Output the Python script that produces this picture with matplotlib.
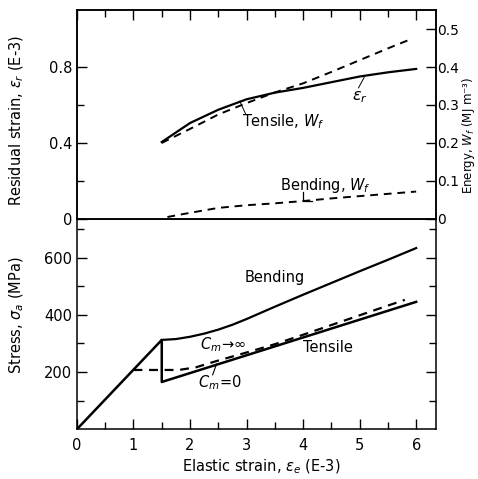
import matplotlib
matplotlib.use('Agg')
import matplotlib.pyplot as plt

# upper panel: residual strain (left axis, E-3) and fracture energy (right axis, MJ m^-3)
er_x = [1.5, 2.0, 2.5, 3.0, 3.5, 4.0, 4.5, 5.0, 5.5, 6.0]
er_y = [0.405, 0.505, 0.575, 0.63, 0.665, 0.69, 0.72, 0.75, 0.772, 0.79]
wt_x = [1.5, 2.0, 2.5, 3.0, 3.5, 4.0, 4.5, 5.0, 5.5, 5.85]
wt_y = [0.20, 0.237, 0.275, 0.305, 0.333, 0.357, 0.387, 0.418, 0.449, 0.47]
wb_x = [1.6, 2.0, 2.5, 3.0, 3.5, 4.0, 4.5, 5.0, 5.5, 6.0]
wb_y = [0.005, 0.016, 0.029, 0.036, 0.041, 0.047, 0.054, 0.060, 0.066, 0.072]

# lower panel: stress (MPa)
tens_x = [0, 1.5, 1.5, 6.0]
tens_y = [0, 312, 165, 445]
bend_x = [1.5, 1.75, 2.0, 2.25, 2.5, 2.75, 3.0, 3.5, 4.0, 4.5, 5.0, 5.5, 6.0]
bend_y = [312, 315, 323, 334, 348, 365, 385, 428, 470, 511, 552, 592, 633]
cinf_x = [1.0, 1.5, 1.8, 2.1, 2.5, 3.0, 3.5, 4.0, 4.5, 5.0, 5.5, 5.8]
cinf_y = [207, 207, 207, 216, 240, 268, 297, 330, 364, 398, 432, 452]

fs = 10.5
dash = (4, 3)

fig = plt.figure(figsize=(4.78, 4.79), dpi=100)
ax2 = fig.add_axes([0.161, 0.104, 0.751, 0.439])
ax1 = fig.add_axes([0.161, 0.543, 0.751, 0.436], sharex=ax2)
ax1r = ax1.twinx()

# upper
ax1.plot(er_x, er_y, color='black', lw=1.6)
ax1r.plot(wt_x, wt_y, color='black', lw=1.4, ls='--', dashes=dash)
ax1r.plot(wb_x, wb_y, color='black', lw=1.4, ls='--', dashes=dash)
ax1.set_xlim(0, 6.35)
ax1.set_ylim(0, 1.1)
ax1r.set_ylim(0, 0.55)
ax1.set_yticks([0, 0.4, 0.8])
ax1.set_yticklabels(['0', '0.4', '0.8'])
ax1.set_yticks([0.2, 0.6], minor=True)
ax1r.set_yticks([0, 0.1, 0.2, 0.3, 0.4, 0.5])
ax1r.set_yticklabels(['0', '0.1', '0.2', '0.3', '0.4', '0.5'])
ax1.tick_params(axis='x', which='both', direction='in', top=True, bottom=False,
                labelbottom=False, labeltop=False)
ax1.tick_params(axis='y', which='both', direction='in', labelsize=fs, pad=3)
ax1.tick_params(which='major', length=7, width=1)
ax1.tick_params(which='minor', length=5, width=1)
ax1r.tick_params(axis='y', direction='in', length=7, width=1, labelsize=10, pad=1)

ax1.text(4.87, 0.64, r'$\epsilon_r$', fontsize=fs + 1, va='center')
ax1.plot([4.98, 5.08], [0.69, 0.745], color='black', lw=0.7)
ax1.text(2.92, 0.51, r'Tensile, $W_f$', fontsize=fs, va='center')
ax1.plot([2.98, 2.88], [0.555, 0.62], color='black', lw=0.7)
ax1.text(3.59, 0.174, r'Bending, $W_f$', fontsize=fs, va='center')
ax1.plot([4.0, 4.0, 4.15], [0.14, 0.095, 0.095], color='black', lw=0.9)

# lower
ax2.plot(tens_x, tens_y, color='black', lw=1.8)
ax2.plot(bend_x, bend_y, color='black', lw=1.6)
ax2.plot(cinf_x, cinf_y, color='black', lw=1.6, ls='--', dashes=dash)
ax2.set_xlim(0, 6.35)
ax2.set_ylim(0, 735)
ax2.set_xticks([0, 1, 2, 3, 4, 5, 6])
ax2.set_xticks([0.5, 1.5, 2.5, 3.5, 4.5, 5.5], minor=True)
ax2.set_yticks([200, 400, 600])
ax2.set_yticks([100, 300, 500, 700], minor=True)
ax2.tick_params(which='both', direction='in', right=True, labelsize=fs)
ax2.tick_params(which='major', length=7, width=1)
ax2.tick_params(which='minor', length=5, width=1)
ax2.tick_params(axis='x', pad=6)

ax2.text(2.97, 531, 'Bending', fontsize=fs, va='center')
ax2.text(4.0, 287, 'Tensile', fontsize=fs, va='center')
ax2.text(2.18, 294, r'$C_m\!\rightarrow\!\infty$', fontsize=fs, va='center')
ax2.text(2.14, 161, r'$C_m\!=\!0$', fontsize=fs, va='center')
ax2.plot([2.4, 2.47], [190, 228], color='black', lw=0.8)

for a in (ax1, ax1r, ax2):
    for s in a.spines.values():
        s.set_linewidth(1.1)

fig.text(17 / 478, 1 - 120 / 479, r'Residual strain, $\epsilon_r$ (E-3)', rotation=90,
         ha='center', va='center', fontsize=fs)
fig.text(17 / 478, 1 - 315 / 479, r'Stress, $\sigma_a$ (MPa)', rotation=90,
         ha='center', va='center', fontsize=fs)
fig.text(261 / 478, 1 - 467 / 479, r'Elastic strain, $\epsilon_e$ (E-3)',
         ha='center', va='center', fontsize=fs)
fig.text(460 / 478, 1 - 135 / 479, 'Energy, $W_f$ (MJ m\u207b\u00b3)', rotation=90,
         ha='left', va='center', fontsize=8.5)

fig.savefig('out.png', dpi=100)
